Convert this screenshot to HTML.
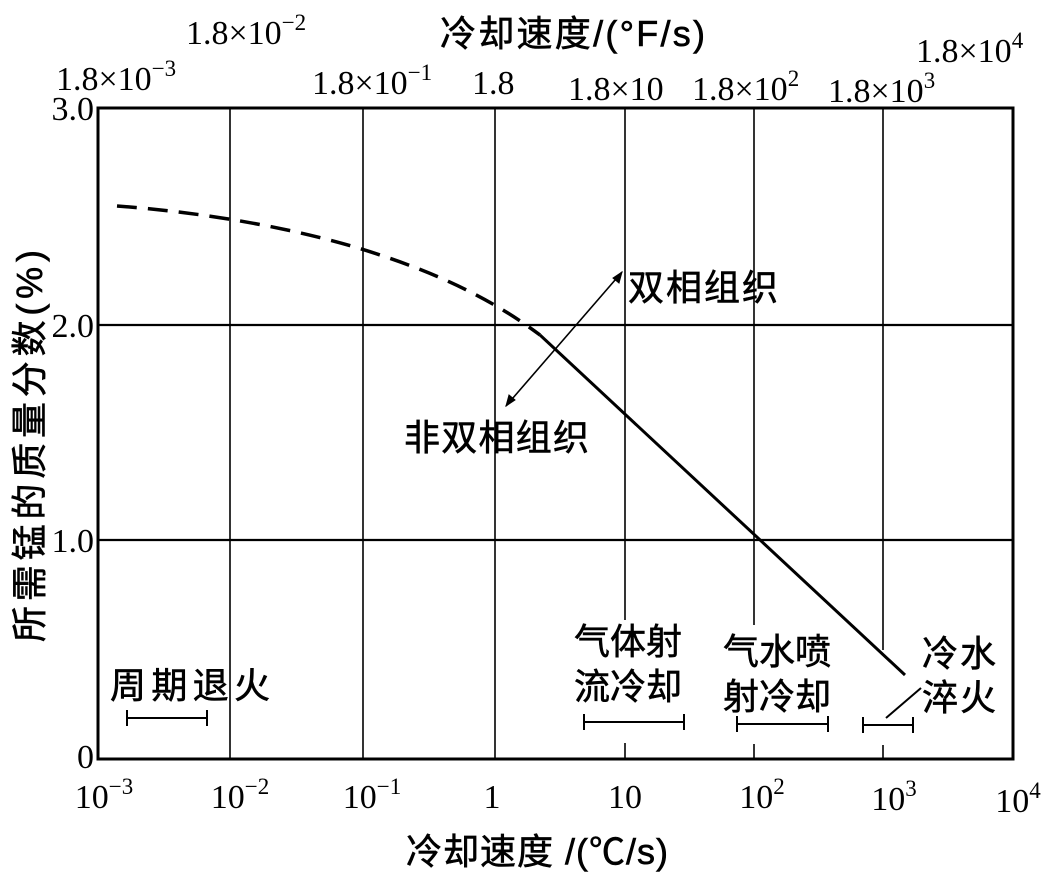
<!DOCTYPE html>
<html><head><meta charset="utf-8"><style>
body{margin:0;background:#fff;}
svg{display:block;font-family:"Liberation Serif","Noto Serif CJK SC",serif;}
.c{font-family:"Liberation Sans","Noto Sans CJK SC",sans-serif;}
</style></head><body>
<svg width="1054" height="882" viewBox="0 0 1054 882" xmlns="http://www.w3.org/2000/svg">
<g stroke="#000" fill="none">
<rect x="98" y="108" width="915" height="651" stroke-width="3"/>
<g stroke-width="1.6">
<line x1="230" y1="108" x2="230" y2="759"/>
<line x1="363" y1="108" x2="363" y2="759"/>
<line x1="495" y1="108" x2="495" y2="759"/>
<line x1="625" y1="108" x2="625" y2="620"/><line x1="625" y1="743" x2="625" y2="759"/>
<line x1="754" y1="108" x2="754" y2="625"/><line x1="754" y1="744" x2="754" y2="759"/>
<line x1="883" y1="108" x2="883" y2="650"/><line x1="883" y1="745" x2="883" y2="759"/>
<line x1="98" y1="325" x2="1013" y2="325" stroke-width="2.2"/>
<line x1="98" y1="540" x2="1013" y2="540" stroke-width="2.2"/>
</g>
<path d="M117,206 C200,212 300,228 380,255 C450,278 500,305 540,335" stroke-width="3.5" stroke-dasharray="20,11"/>
<path d="M540,335 L905,675" stroke-width="3"/>
<line x1="506" y1="406" x2="622" y2="272" stroke-width="1.6"/>
<path d="M622,272 l-3,11 l-6,-5 z M506,406 l3,-11 l6,5 z" fill="#000"/>
<g stroke-width="2">
<path d="M127,718 h80 M127,710 v16 M207,710 v16"/>
<path d="M584,722 h100 M584,714 v16 M684,714 v16"/>
<path d="M737,724 h91 M737,716 v16 M828,716 v16"/>
<path d="M863,725 h50 M863,717 v16 M913,717 v16"/>
<path d="M886,718 L921,688"/>
</g>
</g>
<g font-size="34" fill="#000">
<text x="94" y="120" text-anchor="end">3.0</text>
<text x="94" y="337" text-anchor="end">2.0</text>
<text x="94" y="552" text-anchor="end">1.0</text>
<text x="94" y="768" text-anchor="end">0</text>
<text x="104" y="808" text-anchor="middle">10<tspan dy="-14" font-size="23">−3</tspan></text>
<text x="240" y="808" text-anchor="middle">10<tspan dy="-14" font-size="23">−2</tspan></text>
<text x="372" y="808" text-anchor="middle">10<tspan dy="-14" font-size="23">−1</tspan></text>
<text x="492" y="808" text-anchor="middle">1</text>
<text x="625" y="808" text-anchor="middle">10</text>
<text x="762" y="808" text-anchor="middle">10<tspan dy="-14" font-size="23">2</tspan></text>
<text x="894" y="810" text-anchor="middle">10<tspan dy="-14" font-size="23">3</tspan></text>
<text x="1018" y="812" text-anchor="middle">10<tspan dy="-14" font-size="23">4</tspan></text>
<text x="56" y="90">1.8×10<tspan dy="-14" font-size="23">−3</tspan></text>
<text x="186" y="44">1.8×10<tspan dy="-14" font-size="23">−2</tspan></text>
<text x="312" y="94">1.8×10<tspan dy="-14" font-size="23">−1</tspan></text>
<text x="472" y="94">1.8</text>
<text x="568" y="100">1.8×10</text>
<text x="692" y="100">1.8×10<tspan dy="-14" font-size="23">2</tspan></text>
<text x="828" y="102">1.8×10<tspan dy="-14" font-size="23">3</tspan></text>
<text x="916" y="62">1.8×10<tspan dy="-14" font-size="23">4</tspan></text>
</g>
<g font-size="36" fill="#000" class="c" stroke="#000" stroke-width="0.6">
<text x="440" y="46" textLength="265">冷却速度/(°F/s)</text>
<text x="406" y="864" textLength="262">冷却速度 /(℃/s)</text>
<text x="628" y="300" textLength="150">双相组织</text>
<text x="404" y="450" textLength="185">非双相组织</text>
<text x="110" y="698" textLength="160">周期退火</text>
<text x="574" y="654" textLength="108">气体射</text>
<text x="574" y="699" textLength="108">流冷却</text>
<text x="723" y="664" textLength="108">气水喷</text>
<text x="723" y="709" textLength="108">射冷却</text>
<text x="922" y="666" textLength="74">冷水</text>
<text x="922" y="710" textLength="74">淬火</text>
<text transform="translate(42,642) rotate(-90)" textLength="392">所需锰的质量分数(%)</text>
</g>
</svg>
</body></html>
